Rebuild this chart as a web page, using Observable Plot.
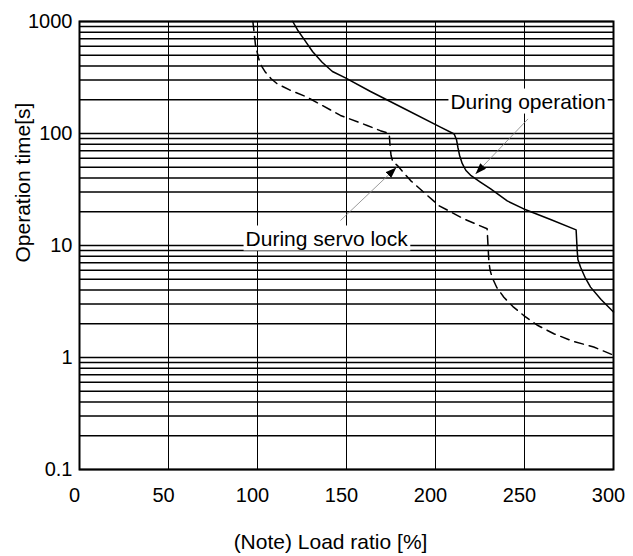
<!DOCTYPE html>
<html>
<head>
<meta charset="utf-8">
<script src="https://cdn.jsdelivr.net/npm/d3@7"></script>
<script src="https://cdn.jsdelivr.net/npm/@observablehq/plot@0.6"></script>
<style>
  html, body { margin: 0; padding: 0; background: #fff; }
</style>
</head>
<body>
<div id="chart"></div>
<script>
// ---- data ----
const opX = [119.8, 122.5, 126, 130.9, 136.3, 142.1, 149.4, 163.5, 182, 202.8, 210.5, 211.8, 212.6, 213.5, 215, 217, 220, 225, 231, 240.3, 249.6, 265, 279, 279.6, 280, 281.5, 284, 287.1, 293, 300];
const opY = [1000, 840, 700, 540, 433, 358, 314, 237, 168, 114, 99, 88, 75, 64, 54, 47, 42, 37, 32, 25, 21.2, 17, 13.8, 9, 7.5, 6.4, 5.2, 4.25, 3.3, 2.55];

const svX = [97.4, 98.9, 100.7, 102.3, 104.5, 107.5, 111, 118, 127.9, 146.6, 161.6, 169, 174, 174.4, 175, 176, 178.5, 186, 201.9, 215.9, 229, 229.5, 230, 230.7, 231.8, 234.5, 238.4, 243.5, 249.6, 257, 266.5, 277, 288.9, 300];
const svY = [1000, 611, 464, 400, 352, 310, 278, 245, 211, 145, 118, 106, 100, 80, 64, 56, 52, 38, 22.7, 17.3, 14.1, 10, 7.1, 6, 5.2, 4.2, 3.45, 2.85, 2.37, 1.95, 1.63, 1.4, 1.24, 1.05];

const xTicks = [0, 50, 100, 150, 200, 250, 300];
const yTicks = [0.1, 1, 10, 100, 1000];
const xTitle = "(Note) Load ratio [%]";
const yTitle = "Operation time[s]";

const annLabels = ["During operation", "During servo lock"];
const annX = [208.4, 93.3];
const annY = [167, 10];
const leadX1 = [252, 146.6];
const leadY1 = [135, 16.7];
const leadX2 = [222.5, 178];
const leadY2 = [43.6, 49.7];

// ---- derived tables ----
const opData = opX.map((x, i) => ({x, y: opY[i]}));
const svData = svX.map((x, i) => ({x, y: svY[i]}));
const yGrid = [0.1, 1, 10, 100].flatMap(d => [1,2,3,4,5,6,7,8,9].map(k => +(d * k).toPrecision(3))).concat([1000]);
const ann = annLabels.map((t, i) => ({t, x: annX[i], y: annY[i]}));
const leads = leadX1.map((x1, i) => ({x1, y1: leadY1[i], x2: leadX2[i], y2: leadY2[i]}));

const font = "'Liberation Sans', Arial, Helvetica, sans-serif";

const plot = Plot.plot({
  width: 633,
  height: 556,
  marginLeft: 79,
  marginRight: 20,
  marginTop: 21,
  marginBottom: 87,
  style: {fontFamily: font, fontSize: "20px", background: "#fff", color: "#000"},
  x: {domain: [0, 300]},
  y: {type: "log", domain: [0.1, 1000]},
  marks: [
    Plot.ruleY(yGrid, {stroke: "#000", strokeWidth: 1.5}),
    Plot.ruleX(xTicks, {stroke: "#000", strokeWidth: 1}),
    Plot.frame({stroke: "#000", strokeWidth: 2}),
    Plot.axisY({ticks: yTicks, tickFormat: d => String(d), tickSize: 0, tickPadding: 7, fontSize: 20, label: null}),
    Plot.axisX({ticks: xTicks, tickFormat: d => String(d), tickSize: 0, tickPadding: 18, fontSize: 20, label: null, dx: -5}),
    Plot.line(opData, {x: "x", y: "y", stroke: "#000", strokeWidth: 1.5}),
    Plot.line(svData, {x: "x", y: "y", stroke: "#000", strokeWidth: 1.5, strokeDasharray: "9,6"}),
    Plot.link(leads, {x1: "x1", y1: "y1", x2: "x2", y2: "y2", stroke: "#808080", strokeWidth: 0.8}),
    Plot.text(ann, {x: "x", y: "y", text: "t", textAnchor: "start", lineAnchor: "bottom", fontSize: 21, fill: "#000"}),
    Plot.text([xTitle], {frameAnchor: "bottom", dy: 73, dx: -16, fontSize: 21, fill: "#000", lineAnchor: "middle"}),
    Plot.text([yTitle], {frameAnchor: "left", rotate: -90, dx: -56, dy: 17, fontSize: 21, fill: "#000", lineAnchor: "middle"})
  ]
});

document.getElementById("chart").appendChild(plot);

// filled arrowheads on leader lines
const svg = d3.select(plot);
const defs = svg.insert("defs", ":first-child");
defs.append("marker")
  .attr("id", "fillarrow")
  .attr("markerUnits", "userSpaceOnUse")
  .attr("markerWidth", 11).attr("markerHeight", 8)
  .attr("refX", 11).attr("refY", 4)
  .attr("orient", "auto")
  .append("path").attr("d", "M0,0L11,4L0,8Z").attr("fill", "#000");
svg.selectAll('g[aria-label="link"] path').attr("marker-end", "url(#fillarrow)");

// white boxes behind annotation labels
svg.selectAll("text").each(function() {
  if (!annLabels.includes(this.textContent)) return;
  const b = this.getBBox();
  const t = this.getAttribute("transform");
  const r = document.createElementNS("http://www.w3.org/2000/svg", "rect");
  r.setAttribute("x", b.x - 2);
  r.setAttribute("y", b.y - 1);
  r.setAttribute("width", b.width + 4);
  r.setAttribute("height", b.height + 2);
  r.setAttribute("fill", "#fff");
  if (t) r.setAttribute("transform", t);
  this.parentNode.insertBefore(r, this);
});
</script>
</body>
</html>
